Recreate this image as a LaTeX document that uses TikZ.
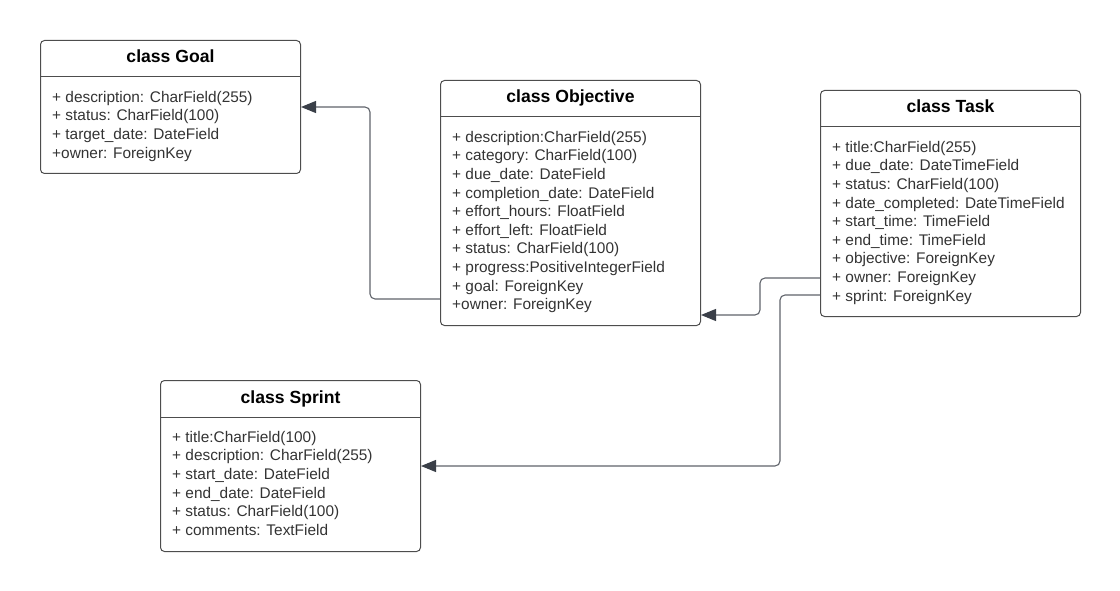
\documentclass[tikz,border=0pt]{standalone}
\usepackage{fontspec}
\setmainfont{Liberation Sans}
\usepackage{tikz}
\usepackage{xcolor}
\usetikzlibrary{arrows.meta, positioning, calc}

\definecolor{boxline}{HTML}{4D4D4D}
\definecolor{wiregray}{HTML}{5F636A}
\definecolor{tipgray}{HTML}{3A3F48}
\definecolor{fieldtext}{HTML}{333333}

\begin{document}
\begin{tikzpicture}[x=1pt, y=-1pt,
    classbox/.style={draw=boxline, line width=1pt, rounded corners=4pt, minimum width=260pt, inner sep=0pt, anchor=north west},
    classtitle/.style={anchor=base, inner sep=0pt, font=\fontsize{17.6}{21}\selectfont\bfseries},
    fields/.style={anchor=north west, inner sep=0pt, align=left, text=fieldtext, font=\fontsize{15.4}{18.6}\selectfont},
    sepline/.style={draw=boxline, line width=1pt},
    link/.style={draw=wiregray, line width=1.1pt, rounded corners=5pt, -{Triangle[length=15pt, width=12pt, color=tipgray]}}]

  \useasboundingbox (0,0) rectangle (1120,591);

  % Goal
  \node[classbox, minimum height=133pt] (goal) at (40,40) {};
  \node[classtitle] (goal title) at ([yshift=-23pt]goal.north) {class Goal};
  \draw[sepline] ([yshift=-37pt]goal.north west) -- ([yshift=-37pt]goal.north east);
  \node[fields] (goal fields) at ([xshift=12pt, yshift=-49pt]goal.north west) {\strut+ description: CharField(255)\\
    + status: CharField(100)\\
    + target\_date: DateField\\
    +owner: ForeignKey};

  % Objective
  \node[classbox, minimum height=245pt] (objective) at (440,80) {};
  \node[classtitle] (objective title) at ([yshift=-23pt]objective.north) {class Objective};
  \draw[sepline] ([yshift=-37pt]objective.north west) -- ([yshift=-37pt]objective.north east);
  \node[fields] (objective fields) at ([xshift=12pt, yshift=-49pt]objective.north west) {\strut+ description:CharField(255)\\
    + category: CharField(100)\\
    + due\_date: DateField\\
    + completion\_date: DateField\\
    + effort\_hours: FloatField\\
    + effort\_left: FloatField\\
    + status: CharField(100)\\
    + progress:PositiveIntegerField\\
    + goal: ForeignKey\\
    +owner: ForeignKey};

  % Task
  \node[classbox, minimum height=226pt] (task) at (820,90) {};
  \node[classtitle] (task title) at ([yshift=-23pt]task.north) {class Task};
  \draw[sepline] ([yshift=-37pt]task.north west) -- ([yshift=-37pt]task.north east);
  \node[fields] (task fields) at ([xshift=12pt, yshift=-49pt]task.north west) {\strut+ title:CharField(255)\\
    + due\_date: DateTimeField\\
    + status: CharField(100)\\
    + date\_completed: DateTimeField\\
    + start\_time: TimeField\\
    + end\_time: TimeField\\
    + objective: ForeignKey\\
    + owner: ForeignKey\\
    + sprint: ForeignKey};

  % Sprint
  \node[classbox, minimum height=171pt] (sprint) at (160,380) {};
  \node[classtitle] (sprint title) at ([yshift=-23pt]sprint.north) {class Sprint};
  \draw[sepline] ([yshift=-37pt]sprint.north west) -- ([yshift=-37pt]sprint.north east);
  \node[fields] (sprint fields) at ([xshift=12pt, yshift=-49pt]sprint.north west) {\strut+ title:CharField(100)\\
    + description: CharField(255)\\
    + start\_date: DateField\\
    + end\_date: DateField\\
    + status: CharField(100)\\
    + comments: TextField};

  % foreign keys
  \draw[link] ([yshift=27pt]objective.south west) -- ++(-70,0) |- ([yshift=-67pt]goal.north east);
  \draw[link] ([yshift=39pt]task.south west) -- ++(-60,0) |- ([yshift=11pt]objective.south east);
  \draw[link] ([yshift=22pt]task.south west) -- ++(-40,0) |- ([yshift=-86pt]sprint.north east);
\end{tikzpicture}
\end{document}
